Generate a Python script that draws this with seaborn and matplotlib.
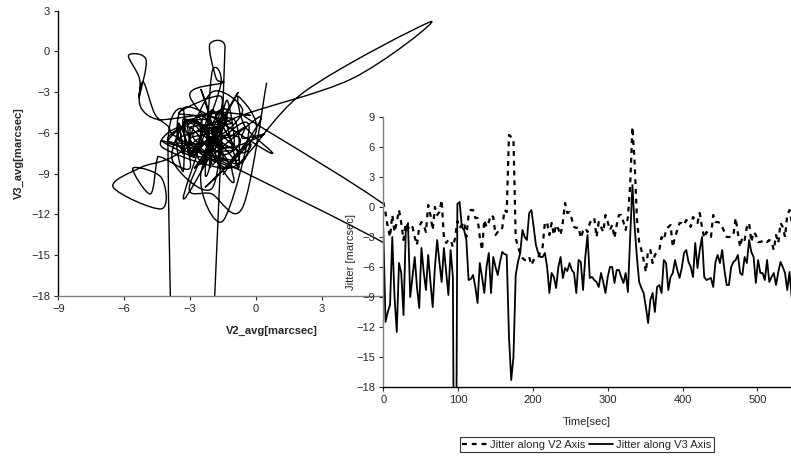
import numpy as np
import matplotlib
matplotlib.use("Agg")
import matplotlib.pyplot as plt
from matplotlib.path import Path
from matplotlib.patches import PathPatch
import pandas as pd
import seaborn as sns

# jitter samples, one every 3 s (rows of 30 s)
v2_jitter = [
    0.5, -0.6, -2.0, -3.0, -0.8, -2.5, -1.5, -0.3, -1.6, -3.3,
    -1.6, -2.0, -2.3, -2.0, -3.0, -3.8, -2.0, -1.5, -1.8, -2.5,
    0.2, -0.8, -2.3, 0.0, -0.8, -0.5, 0.7, -3.0, -3.6, -3.3,
    -3.3, -4.0, -3.1, -1.4, -2.1, -1.8, -1.5, -3.0, -0.8, -0.3,
    -0.3, -1.1, -1.1, -3.0, -4.3, -1.3, -2.0, -1.5, -0.8, -1.0,
    -2.8, -2.5, -2.5, -2.1, -0.3, -0.5, 7.2, 7.0, 6.8, -3.1,
    -4.0, -4.6, -5.1, -5.3, -5.3, -5.0, -5.8, -5.3, -5.3, -5.0,
    -4.5, -4.0, -1.5, -1.6, -2.8, -1.6, -2.8, -1.8, -2.2, -2.8,
    -1.5, 0.4, -0.6, -0.5, -1.2, -2.0, -2.1, -2.0, -3.1, -2.4,
    -2.1, -2.5, -1.6, -1.3, -1.1, -3.0, -1.5, -2.0, -2.5, -0.8,
    -1.5, -2.3, -1.8, -3.1, -1.8, -0.8, -0.8, -1.5, -2.3, -1.0,
    2.2, 8.0, 4.4, -1.1, -3.5, -4.3, -5.3, -6.5, -4.3, -4.3,
    -5.6, -4.8, -4.5, -4.3, -3.0, -3.3, -2.3, -2.0, -1.8, -4.0,
    -3.0, -2.3, -1.6, -1.6, -1.8, -1.3, -1.5, -2.0, -1.0, -1.3,
    -1.6, -0.6, -2.0, -3.1, -2.5, -2.8, -3.0, -0.8, -1.5, -1.5,
    -1.6, -2.0, -2.5, -3.0, -3.0, -3.0, -2.8, -1.1, -2.6, -4.0,
    -3.0, -3.3, -2.0, -1.6, -3.5, -2.5, -2.8, -3.5, -3.5, -3.4,
    -3.3, -3.5, -3.3, -3.5, -4.3, -2.8, -3.6, -1.6, -2.0, -3.0,
    -0.8, -0.3, -1.5,
]
v3_jitter = [
    -2.3, -11.5, -10.5, -9.8, -3.0, -9.0, -12.5, -5.6, -6.6, -10.8,
    -2.5, -1.6, -9.0, -7.0, -5.0, -8.0, -10.1, -4.1, -6.5, -8.3,
    -4.8, -7.5, -10.0, -6.0, -3.3, -5.5, -7.5, -4.1, -6.5, -8.8,
    -4.3, -7.0, -50.0, 0.3, 0.5, -2.0, -2.3, -3.3, -7.3, -7.2,
    -6.8, -8.0, -9.6, -5.6, -7.0, -8.6, -6.0, -4.6, -8.6, -5.0,
    -6.0, -6.8, -5.5, -4.5, -4.7, -4.8, -13.0, -17.3, -15.0, -6.8,
    -5.5, -4.6, -2.3, -3.0, -3.3, -0.6, -0.3, -2.0, -3.8, -4.6,
    -5.0, -5.0, -4.6, -6.0, -8.6, -6.6, -7.0, -8.1, -6.0, -5.0,
    -7.1, -6.1, -6.4, -5.6, -6.3, -6.6, -8.6, -5.3, -5.5, -8.3,
    -5.0, -2.8, -7.1, -7.0, -7.3, -7.5, -8.0, -6.6, -7.5, -8.6,
    -7.0, -6.0, -6.0, -7.6, -6.3, -6.3, -7.0, -7.6, -6.6, -8.5,
    -3.0, 2.2, -2.0, -5.0, -7.5, -8.1, -8.6, -10.0, -11.6, -9.3,
    -8.6, -10.5, -8.0, -7.8, -8.6, -5.3, -5.6, -8.3, -7.0, -6.6,
    -5.3, -6.3, -7.1, -6.1, -4.6, -4.3, -5.5, -6.0, -7.0, -3.6,
    -6.1, -4.3, -3.0, -7.0, -7.3, -7.2, -7.1, -8.0, -5.5, -4.8,
    -5.6, -4.3, -6.3, -7.8, -7.8, -6.0, -5.5, -5.3, -4.8, -6.6,
    -6.8, -5.0, -5.6, -3.3, -4.5, -5.0, -7.6, -5.3, -6.6, -6.6,
    -7.3, -5.3, -7.5, -7.0, -6.6, -7.8, -6.5, -5.5, -6.0, -6.6,
    -8.3, -6.5, -9.1,
]
time_sec = np.arange(len(v2_jitter)) * 3

sns.set_style("ticks")
plt.rcParams["font.family"] = ["Liberation Sans", "DejaVu Sans"]
plt.rcParams["font.size"] = 8


def smooth_path(xs, ys):
    # Excel style "smoothed line": a cubic Bezier through every data point
    pts = np.column_stack([xs, ys]).astype(float)
    n = len(pts)
    verts = [pts[0]]
    codes = [Path.MOVETO]
    for i in range(n - 1):
        p0, p1 = pts[max(i - 1, 0)], pts[i]
        p2, p3 = pts[i + 1], pts[min(i + 2, n - 1)]
        seg = np.hypot(*(p2 - p1))
        d1 = (p2 - p0) / 6
        d2 = (p3 - p1) / 6
        for d in (d1, d2):
            l = np.hypot(*d)
            if l > seg and l > 0:
                d *= seg / l
        verts += [p1 + d1, p2 - d2, p2]
        codes += [Path.CURVE4] * 3
    return Path(verts, codes)


W, H = 791, 457
fig = plt.figure(figsize=(W / 100, H / 100), dpi=100)

# left chart: V3 against V2
ax1 = fig.add_axes([58.3 / W, 1 - 295.7 / H, 427.7 / W, 285 / H])
ax1.add_patch(PathPatch(smooth_path(v2_jitter, v3_jitter), facecolor="none",
                        edgecolor="black", lw=1.0))
ax1.set_xlim(-9, 10.5)
ax1.set_ylim(-18, 3)
ax1.set_xticks(range(-9, 10, 3))
ax1.set_yticks(range(-18, 4, 3))
ax1.set_xlabel("V2_avg[marcsec]", fontweight="bold", fontsize=8)
ax1.set_ylabel("V3_avg[marcsec]", fontweight="bold", fontsize=8)
ax1.xaxis.set_label_coords(0.5, -0.105)
ax1.yaxis.set_label_coords(-0.08, 0.5)
sns.despine(ax=ax1)
ax1.spines["left"].set_color("black")
ax1.spines["bottom"].set_color("#808080")
for sp in ax1.spines.values():
    sp.set_linewidth(1.0)
ax1.tick_params(direction="out", length=3, width=0.8, pad=3, labelsize=8)
ax1.patch.set_alpha(0)

# right chart: jitter over time
ax2 = fig.add_axes([383.3 / W, 1 - 387 / H, 407.7 / W, 270 / H])
ax2.set_facecolor("white")
df = pd.DataFrame({"t": time_sec, "V2": v2_jitter, "V3": v3_jitter})
sns.lineplot(data=df, x="t", y="V2", ax=ax2, color="black", lw=1.6,
             linestyle=(0, (2.2, 2.2)), label="Jitter along V2 Axis")
sns.lineplot(data=df, x="t", y="V3", ax=ax2, color="black", lw=1.3,
             label="Jitter along V3 Axis")
ax2.set_xlim(0, 545)
ax2.set_ylim(-18, 9)
ax2.set_xticks(range(0, 501, 100))
ax2.set_yticks(range(-18, 10, 3))
ax2.set_xlabel("Time[sec]", fontsize=8)
ax2.set_ylabel("Jitter [marcsec]", fontsize=8)
ax2.xaxis.set_label_coords(0.5, -0.11)
ax2.yaxis.set_label_coords(-0.066, 0.5)
sns.despine(ax=ax2)
ax2.spines["left"].set_color("#808080")
ax2.spines["bottom"].set_color("black")
for sp in ax2.spines.values():
    sp.set_linewidth(1.0)
ax2.tick_params(direction="out", length=3, width=0.8, pad=3, labelsize=8)

handles, labels = ax2.get_legend_handles_labels()
ax2.get_legend().remove()
leg = fig.legend(handles, labels, loc="center", bbox_to_anchor=(587 / W, 1 - 444.5 / H),
                 ncol=2, frameon=True, fancybox=False, edgecolor="black",
                 handlelength=2.2, handletextpad=0.3, columnspacing=0.3,
                 borderpad=0.25, fontsize=8)
leg.get_frame().set_linewidth(0.8)

fig.savefig("out.png", dpi=100)
